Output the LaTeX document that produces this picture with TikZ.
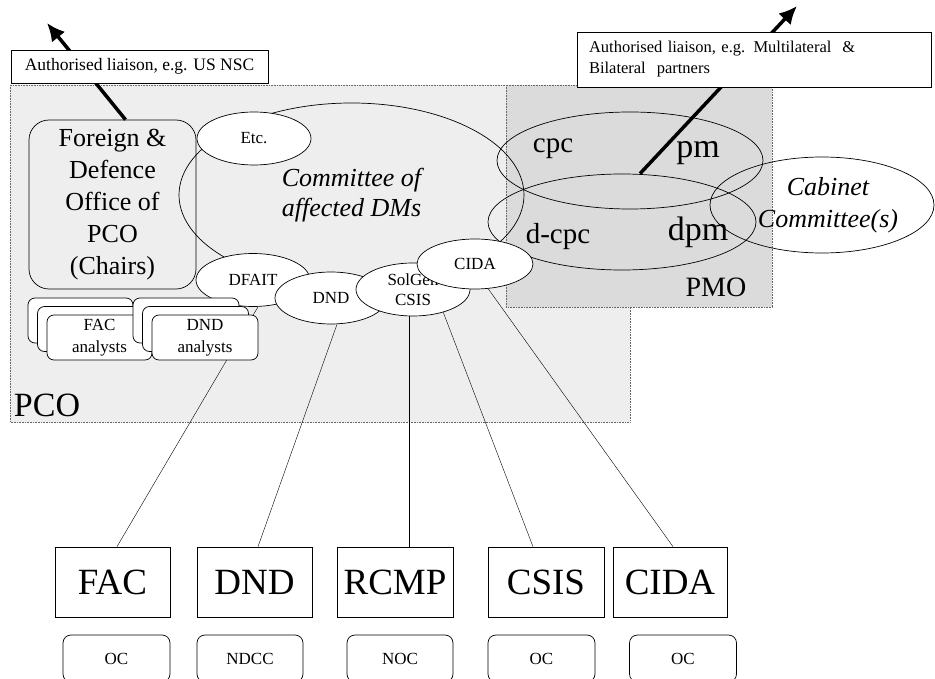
\documentclass[tikz,border=0pt]{standalone}
\usepackage{fontspec}
\setmainfont{Liberation Serif}
\usetikzlibrary{shapes.geometric, arrows.meta, positioning, shadows, backgrounds}

\definecolor{pcogray}{gray}{0.935}
\definecolor{pmogray}{gray}{0.86}

\begin{document}
\begin{tikzpicture}[
            x=1pt, y=-1pt,
            line width=0.7pt,
            region/.style={densely dotted, line width=0.6pt, draw=gray!80!black},
            liaison/.style={rectangle, draw, fill=white, inner sep=0pt},
            unit/.style={ellipse, draw, fill=white, minimum width=114pt, minimum height=53pt, inner sep=0pt, align=center, font=\fontsize{17}{20}\selectfont},
            group/.style={ellipse, draw, inner sep=0pt},
            analysts/.style={rectangle, draw, fill=white, rounded corners=7pt, minimum width=105pt, minimum height=45pt, align=center, font=\fontsize{17}{22}\selectfont,
                copy shadow={shadow xshift=-19pt, shadow yshift=17pt, draw=black, fill=white},
                copy shadow={shadow xshift=-9.5pt, shadow yshift=8.5pt, draw=black, fill=white}},
            dept/.style={rectangle, draw, fill=white, minimum width=115pt, minimum height=70pt, inner sep=0pt, font=\fontsize{37}{40}\selectfont},
            ops/.style={rectangle, draw, rounded corners=8pt, minimum width=107pt, minimum height=47pt, inner sep=0pt, font=\fontsize{17}{20}\selectfont},
            liaisonline/.style={line width=3.5pt, -{Latex[length=18pt,width=17pt]}}
        ]
            \useasboundingbox (0,0) rectangle (935,679);

            % offices and committees
            \node[rectangle, draw, rounded corners=20pt, minimum width=167pt, minimum height=169pt, align=center, font=\fontsize{26}{32}\selectfont] (fdo) at (112.5,204.5) {Foreign \&\\Defence\\Office of\\PCO\\(Chairs)};
            \node[group, minimum width=345pt, minimum height=184pt, align=center, font=\itshape\fontsize{26}{30}\selectfont] (cttee) at (351.5,195) {Committee of\\affected DMs};
            \node[group, minimum width=266pt, minimum height=97pt] (cpc) at (630,160.5) {};
            \node[group, minimum width=268pt, minimum height=96pt] (dcpc) at (622,222) {};
            \node[group, minimum width=224pt, minimum height=96pt, align=center, font=\itshape\fontsize{26}{32}\selectfont] (cabinet) at (822,205) {\hspace*{12pt}Cabinet\\\hspace*{12pt}Committee(s)};

            \node[font=\fontsize{29}{32}\selectfont] (cpclbl) at (553,149) {cpc};
            \node[font=\fontsize{34}{36}\selectfont] (pmlbl) at (698,153.5) {pm};
            \node[font=\fontsize{29}{32}\selectfont] (dcpclbl) at (558,237) {d-cpc};
            \node[font=\fontsize{34}{36}\selectfont] (dpmlbl) at (698,232) {dpm};
            \node[font=\fontsize{28}{30}\selectfont] (pmo) at (716,287) {PMO};
            \node[font=\fontsize{34}{36}\selectfont] (pco) at (47,405) {PCO};

            % departments in the committee
            \node[unit] (etc)    at (254,138.5) {Etc.};
            \node[unit] (dfait)  at (253,280) {DFAIT};
            \node[unit, minimum width=112pt, minimum height=52pt] (dnd) at (331,298) {DND};
            \node[unit] (solgen) at (413,289.5) {SolGen\\CSIS};
            \node[unit, minimum width=116pt, minimum height=50pt] (cida) at (475,264) {CIDA};

            \node[analysts] (facan) at (99.5,337.5) {FAC\\analysts};
            \node[analysts, minimum width=106pt] (dndan) at (205,337.5) {DND\\analysts};

            % departments and their operations centres
            \node[dept] (facbox)  at (112.5,582) {FAC};
            \node[dept] (dndbox)  at (254.5,582) {DND};
            \node[dept, minimum width=116pt] (rcmpbox) at (395,582) {RCMP};
            \node[dept, minimum width=116pt] (csisbox) at (546,582) {CSIS};
            \node[dept, minimum width=114pt] (cidabox) at (670,582) {CIDA};

            \node[ops] (facoc)  at (116.5,658.5) {OC};
            \node[ops, minimum width=106pt] (ndcc) at (250,658.5) {NDCC};
            \node[ops, minimum width=106pt] (noc)  at (400,658.5) {NOC};
            \node[ops] (csisoc) at (541.5,658.5) {OC};
            \node[ops] (cidaoc) at (683,658.5) {OC};

            % liaison boxes
            \coordinate (nsctip) at (47,23);
            \coordinate (multitip) at (797,6);
            \node[liaison, minimum width=257pt, minimum height=33pt, font=\fontsize{17.5}{20}\selectfont] (nsc) at (139.5,66.5) {Authorised liaison, e.g. US NSC};
            \node[liaison, minimum width=354pt, minimum height=55pt, text width=330pt, align=left, font=\fontsize{16.5}{21}\selectfont] (multi) at (754,59.5) {Authorised liaison, e.g. Multilateral\ \ \&\\Bilateral\ \ partners};

            \begin{pgfonlayer}{background}
                \fill[pcogray] (10,85) rectangle (630,422);
                \draw[region] (10,85) rectangle (630,422);
                \fill[pmogray] (506,85) rectangle (772,307);
                \draw[region] (506,85) rectangle (772,307);
                \draw ([xshift=4.5pt]facbox.north) -- ([xshift=5pt]dfait.south);
                \draw ([xshift=3.5pt]dndbox.north) -- ([xshift=6pt]dnd.south);
                \draw ([xshift=14pt]rcmpbox.north) -- ([xshift=-4pt]solgen.south);
                \draw ([xshift=-13pt]csisbox.north) -- (solgen.-37);
                \draw ([xshift=3pt]cidabox.north) -- (cida.-62);
                \draw[liaisonline] ([xshift=13pt]fdo.north) -- (nsctip);
                \draw[liaisonline] ([xshift=18pt]dcpc.north) -- (multitip);
            \end{pgfonlayer}
        \end{tikzpicture}
\end{document}
